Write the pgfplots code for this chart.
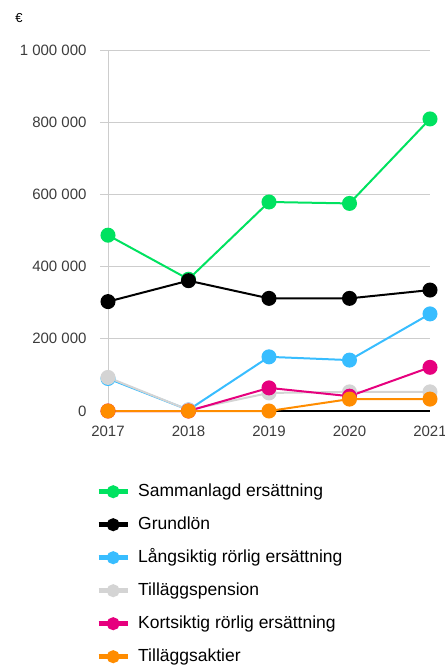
\documentclass[border=0pt]{standalone}
\usepackage{pgfplots}
\pgfplotsset{compat=1.18}
\usepackage{fontspec}
\setmainfont{Liberation Sans}
\definecolor{cgreen}{RGB}{0,226,96}
\definecolor{cblue}{RGB}{56,189,255}
\definecolor{cgrey}{RGB}{212,212,212}
\definecolor{cpink}{RGB}{230,0,126}
\definecolor{corange}{RGB}{255,140,0}
\definecolor{gridgrey}{RGB}{205,205,205}
\definecolor{labelgrey}{RGB}{60,60,60}
\begin{document}
\begin{tikzpicture}[x=1pt,y=1pt]
\path[use as bounding box] (0,0) rectangle (445,665);
\node[font=\fontsize{13}{15}\selectfont] at (19,647) {€};
\begin{axis}[
  at={(108pt,254pt)}, anchor=south west,
  scale only axis, width=322pt, height=361pt,
  xmin=2017, xmax=2021, ymin=0, ymax=1000000,
  clip=false,
  axis lines=left, axis line style={-},
  x axis line style={black, line width=1.2pt},
  y axis line style={draw=gridgrey, line width=0.8pt},
  ytick={0,200000,400000,600000,800000,1000000},
  yticklabels={0,200 000,400 000,600 000,800 000,1 000 000},
  xtick={2017,2018,2019,2020,2021},
  xticklabels={2017,2018,2019,2020,2021},
  scaled y ticks=false,
  ymajorgrids, grid style={gridgrey, line width=0.8pt},
  ytick style={gridgrey, line width=0.8pt},
  xtick style={draw=none},
  major tick length=8pt, tick align=outside,
  tick label style={font=\fontsize{15}{18}\selectfont, text=labelgrey},
  yticklabel style={xshift=-10pt},
  xticklabel style={yshift=-3pt},
  legend image code/.code={\draw[line width=5pt] (0pt,0pt) -- (29pt,0pt); \fill (14.5pt,0pt) circle (5.5pt);},
  legend cell align=left,
  legend style={draw=none, fill=none, at={(axis description cs:0,0)}, anchor=north west,
    xshift=-12pt, yshift=-72pt, inner sep=0pt, row sep=16pt,
    font=\fontsize{17.5}{20}\selectfont,
    nodes={inner sep=0pt, text height=13pt, text depth=4pt},
    /tikz/every odd column/.append style={column sep=8pt}},
]
\addplot[cgreen, line width=2pt, mark=*, mark size=6.5pt, mark options={draw=none}] coordinates {(2017,487000)(2018,365000)(2019,579000)(2020,575000)(2021,809000)};
\addlegendentry{Sammanlagd ersättning}
\addplot[black, line width=2pt, mark=*, mark size=6.5pt, mark options={draw=none}] coordinates {(2017,303000)(2018,361000)(2019,312000)(2020,312000)(2021,335000)};
\addlegendentry{Grundlön}
\addplot[cblue, line width=2pt, mark=*, mark size=6.5pt, mark options={draw=none}] coordinates {(2017,90000)(2018,3000)(2019,150000)(2020,141000)(2021,269000)};
\addlegendentry{Långsiktig rörlig ersättning}
\addplot[cgrey, line width=2pt, mark=*, mark size=6.5pt, mark options={draw=none}] coordinates {(2017,93000)(2018,3000)(2019,50000)(2020,53000)(2021,53000)};
\addlegendentry{Tilläggspension}
\addplot[cpink, line width=2pt, mark=*, mark size=6.5pt, mark options={draw=none}] coordinates {(2017,0)(2018,0)(2019,64000)(2020,41000)(2021,121000)};
\addlegendentry{Kortsiktig rörlig ersättning}
\addplot[corange, line width=2pt, mark=*, mark size=6.5pt, mark options={draw=none}] coordinates {(2017,0)(2018,0)(2019,0)(2020,33000)(2021,33000)};
\addlegendentry{Tilläggsaktier}
\end{axis}
\end{tikzpicture}
\end{document}
